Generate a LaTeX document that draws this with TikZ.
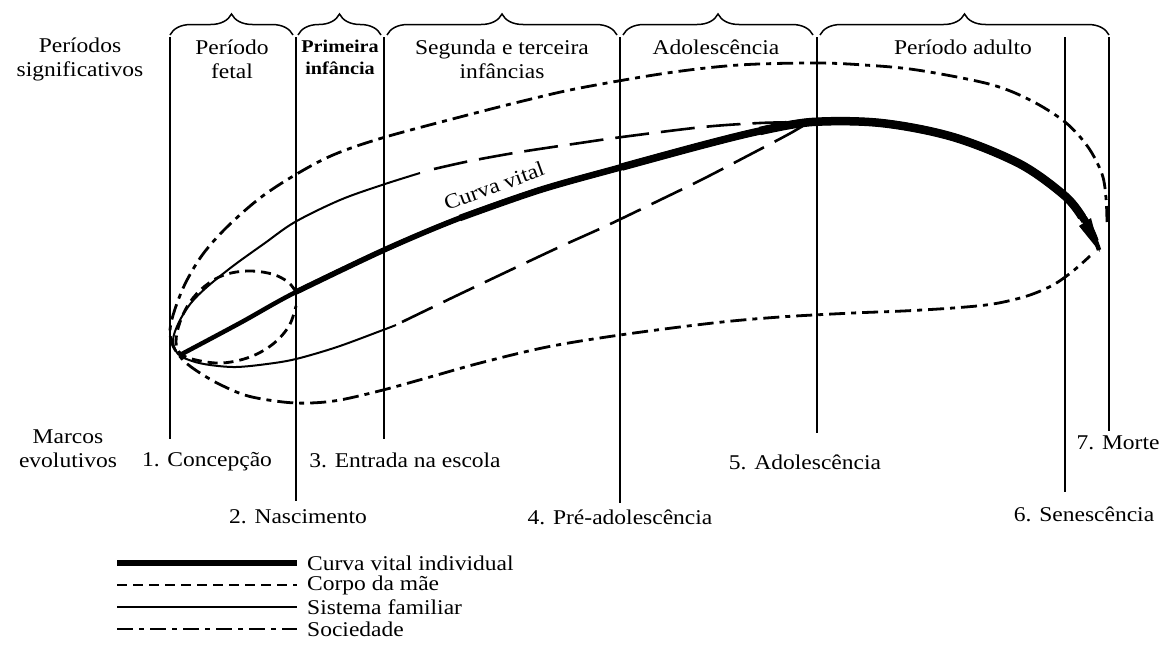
\documentclass[tikz,border=0pt]{standalone}
\usepackage{fontspec}
\setmainfont{Liberation Serif}[FakeStretch=1.12]
\usetikzlibrary{decorations.pathreplacing}
\begin{document}
\begin{tikzpicture}[x=1pt,y=-1pt,
  txt/.style={font=\fontsize{21}{24}\selectfont, inner sep=0pt, align=center},
  bld/.style={font=\fontsize{18}{22}\selectfont\bfseries, inner sep=0pt, align=center},
  vline/.style={line width=1.6pt},
  brc/.style={line width=1.5pt, decorate, decoration={brace, amplitude=21pt, aspect=0.5}},
  mae/.style={line width=2.8pt, dash pattern=on 10pt off 6pt},
  fam/.style={line width=2pt},
  famd/.style={line width=2.6pt, dash pattern=on 34pt off 12pt},
  soc/.style={line width=2.8pt, dash pattern=on 16pt off 6pt on 5pt off 6pt}
]
\useasboundingbox (0,0) rectangle (1176,664);

% vertical milestone lines
\coordinate (t1) at (170,37);  \coordinate (b1) at (170,439);
\coordinate (t2) at (296,37);  \coordinate (b2) at (296,501);
\coordinate (t3) at (384,37);  \coordinate (b3) at (384,439);
\coordinate (t4) at (620,37);  \coordinate (b4) at (620,503);
\coordinate (t5) at (817,37);  \coordinate (b5) at (817,433);
\coordinate (t6) at (1065,37); \coordinate (b6) at (1065,492);
\coordinate (t7) at (1109,37); \coordinate (b7) at (1109,431);
\foreach \i in {1,...,7} \draw[vline] (t\i) -- (b\i);

% braces
\draw[brc] (170,35) -- (293,35);
\draw[brc] (298,35) -- (381,35);
\draw[brc] (387,35) -- (617,35);
\draw[brc] (623,35) -- (813,35);
\draw[brc] (820,35) -- (1109,35);

% header texts
\node[txt] (hp) at (80,59) {Períodos\\significativos};
\node[txt] (h1) at (232,59) {Período\\fetal};
\node[bld] (h2) at (340,57) {Primeira\\infância};
\node[txt] (h3) at (502,59) {Segunda e terceira\\infâncias};
\node[txt] (h4) at (716,47) {Adolescência};
\node[txt] (h5) at (963,47) {Período adulto};

% bottom texts
\node[txt] (mk) at (68,449) {Marcos\\evolutivos};
\node[txt] (m1) at (207,462) {1. Concepção};
\node[txt] (m2) at (298,517) {2. Nascimento};
\node[txt] (m3) at (405,460) {3. Entrada na escola};
\node[txt] (m4) at (620,517) {4. Pré-adolescência};
\node[txt] (m5) at (805,462) {5. Adolescência};
\node[txt] (m6) at (1084,514) {6. Senescência};
\node[txt] (m7) at (1118,443) {7. Morte};

% society (outer loop)
\draw[soc] plot[smooth, tension=0.55] coordinates {
 (1107,222) (1106,198) (1102,174) (1088,147) (1065,122) (1030,100) (989,84)
 (917,70) (864,65) (815,63) (739,65) (667,73) (580,88) (527,100) (460,117)
 (382,138) (333,155) (295,175) (260,198) (227,227) (203,254) (186,282)
 (175,309) (170,330) (173,346) (184,361) (200,373) (221,385) (248,396)
 (283,402) (310,403) (340,400) (383,390) (430,377) (480,363) (547,347)
 (620,335) (713,323) (780,317) (853,313) (903,311) (953,308) (993,304)
 (1027,296) (1053,285) (1073,271) (1090,256)};

% family system
\draw[fam] plot[smooth, tension=0.55] coordinates {
 (420,173) (382,185) (340,200) (295,222) (265,243) (233,266) (207,287)
 (191,303) (179,322) (173,340) (178,354) (192,361) (210,365) (236,367)
 (267,364) (296,359) (337,347) (383,330) (396,325)};
\draw[famd] plot[smooth, tension=0.5] coordinates {
 (434,169) (470,161) (520,152) (580,143) (622,137) (703,127) (760,123) (806,122)};
\draw[famd] plot[smooth, tension=0.5] coordinates {
 (402,322) (460,294) (553,250) (606,226) (660,200) (703,179) (753,153) (789,134) (806,124)};

% mother's body
\draw[mae] plot[smooth, tension=0.6] coordinates {
 (296,292) (288,282) (272,274) (248,271) (224,275) (205,286) (190,302)
 (180,322) (176,342) (181,354) (196,360) (222,363) (250,357) (273,344)
 (289,326) (296,306)};

% life curve (tapering width)
\def\vitalpts{(180,355) (240,323) (296,292) (384,250) (460,218) (540,190) (622,167) (703,145) (760,131) (812,122) (881,123) (953,137) (1020,164) (1065,196) (1088,224) (1099,250)}
\draw[line width=4.5pt] plot[smooth, tension=0.55] coordinates {
 (180,355) (240,323) (296,292) (384,250) (460,218) (540,190) (622,167)
 (703,145) (760,131) (812,122) (881,123) (953,137) (1020,164) (1065,196)
 (1088,224) (1099,250)};
\draw[line width=5.5pt] plot[smooth, tension=0.55] coordinates {
 (296,292) (384,250) (460,218) (540,190) (622,167)
 (703,145) (760,131) (812,122) (881,123) (953,137) (1020,164) (1065,196)
 (1088,224) (1096,241)};
\draw[line width=6.5pt] plot[smooth, tension=0.55] coordinates {
 (460,218) (540,190) (622,167)
 (703,145) (760,131) (812,122) (881,123) (953,137) (1020,164) (1065,196)
 (1087,223)};
\draw[line width=7.5pt] plot[smooth, tension=0.55] coordinates {
 (622,167) (703,145) (760,131) (812,122) (881,123) (953,137) (1020,164)
 (1065,196) (1085,221)};
\draw[line width=8.5pt] plot[smooth, tension=0.55] coordinates {
 (760,131) (812,122) (881,123) (953,137) (1020,164) (1065,196) (1082,217)};
\fill (1079,226) -- (1091,218) -- (1100,252) -- cycle;
\node[txt, rotate=20] (cv) at (494,186) {Curva vital};

% legend
\node[txt, anchor=west] (l1) at (307,563) {Curva vital individual};
\node[txt, anchor=west] (l2) at (307,585) {Corpo da mãe};
\node[txt, anchor=west] (l3) at (307,607) {Sistema familiar};
\node[txt, anchor=west] (l4) at (307,629) {Sociedade};
\coordinate (s1) at (117,563); \coordinate (s2) at (117,585);
\coordinate (s3) at (117,607); \coordinate (s4) at (117,629);
\draw[line width=6.5pt] (s1) -- ([xshift=-10pt]l1.west);
\draw[mae] (s2) -- ([xshift=-10pt]l2.west);
\draw[fam, line width=2.4pt] (s3) -- ([xshift=-10pt]l3.west);
\draw[soc] (s4) -- ([xshift=-10pt]l4.west);
\end{tikzpicture}
\end{document}
